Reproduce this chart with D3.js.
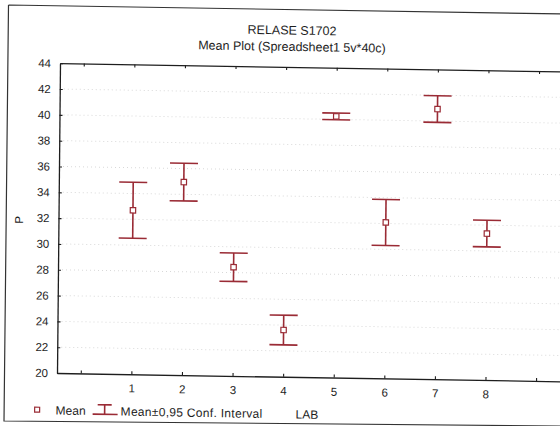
<!DOCTYPE html>
<html>
<head>
<meta charset="utf-8">
<script src="https://cdn.jsdelivr.net/npm/d3@7/dist/d3.min.js"></script>
<style>
  html, body { margin: 0; padding: 0; background: #fff; }
  svg { display: block; font-family: "Liberation Sans", Arial, sans-serif; }
</style>
</head>
<body>
<svg id="chart" width="560" height="426"></svg>
<script>
// LAB groups, means of P and half-width of the 0.95 confidence interval
const labs = [1, 2, 3, 4, 5, 6, 7, 8];
const means = [32.70, 34.95, 28.42, 23.62, 40.23, 32.08, 40.93, 31.35];
const ciHalf = [2.17, 1.46, 1.10, 1.15, 0.26, 1.78, 1.03, 1.03];
const yTicks = [20, 22, 24, 26, 28, 30, 32, 34, 36, 38, 40, 42, 44];
const xTicks = [0, 1, 2, 3, 4, 5, 6, 7, 8, 9, 10];
const xTickLabels = ["1", "2", "3", "4", "5", "6", "7", "8"];

const title = "RELASE S1702";
const subtitle = "Mean Plot (Spreadsheet1 5v*40c)";

const red = "#9a2b35";
const ink = "#1e1e1e";

const svg = d3.select("#chart");

// outer frame of the printed page
svg.append("path")
  .attr("d", "M8.5,5 L562,14 M8.5,5 L4,421 L562,426")
  .attr("fill", "none")
  .attr("stroke", "#333")
  .attr("stroke-width", 1.2);

// the printed sheet sits slightly skewed; everything is drawn in that frame
const e = 0.0097 * 373, f = -0.0165 * 57;
const g = svg.append("g")
  .attr("transform", `matrix(1,0.0165,-0.0097,1,${e},${f})`);

const x = d3.scaleLinear().domain([-0.47, 10.6]).range([57, 617]);
const y = d3.scaleLinear().domain([20, 44]).range([373, 63.2]);

// faint dotted grid
g.append("g").selectAll("line")
  .data(yTicks.slice(1, -1))
  .join("line")
  .attr("x1", x.range()[0]).attr("x2", x.range()[1])
  .attr("y1", d => y(d)).attr("y2", d => y(d))
  .attr("stroke", "#d8d8d8")
  .attr("stroke-width", 1)
  .attr("stroke-dasharray", "1,3");

function styleAxis(sel) {
  sel.selectAll("path.domain").attr("stroke", ink).attr("stroke-width", 1.3);
  sel.selectAll(".tick line").attr("stroke", ink).attr("stroke-width", 1.1);
  sel.selectAll(".tick text")
    .attr("fill", ink)
    .style("font-family", '"Liberation Sans", Arial, sans-serif')
    .style("font-size", "11.5px");
}

const fmtX = d => (d >= 1 && d <= 8) ? xTickLabels[d - 1] : "";

g.append("g")
  .attr("transform", `translate(0,${y(20)})`)
  .call(d3.axisBottom(x).tickValues(xTicks).tickFormat(fmtX)
    .tickSizeInner(-3).tickSizeOuter(0).tickPadding(10))
  .call(styleAxis);

g.append("g")
  .attr("transform", `translate(0,${y(44)})`)
  .call(d3.axisTop(x).tickValues(xTicks).tickFormat(() => "")
    .tickSizeInner(-3).tickSizeOuter(0))
  .call(styleAxis);

g.append("g")
  .attr("transform", `translate(${x.range()[0]},0)`)
  .call(d3.axisLeft(y).tickValues(yTicks).tickFormat(d3.format("d"))
    .tickSizeInner(-3).tickSizeOuter(0).tickPadding(9))
  .call(styleAxis);

// titles
g.append("text")
  .attr("x", 288.7).attr("y", 30.7)
  .attr("text-anchor", "middle")
  .attr("fill", ink).style("font-size", "12.5px")
  .text(title);
g.append("text")
  .attr("x", 288.8).attr("y", 47.1)
  .attr("text-anchor", "middle")
  .attr("fill", ink).style("font-size", "12.5px")
  .text(subtitle);

// y-axis title
g.append("text")
  .attr("transform", "translate(21.5,220.6) rotate(-90)")
  .attr("text-anchor", "middle")
  .attr("fill", ink).style("font-size", "11.5px")
  .text("P");

// confidence interval whiskers
const cap = 14;
const bars = g.append("g")
  .attr("stroke", red).attr("stroke-width", 1.6).attr("fill", "none");
labs.forEach((lab, i) => {
  const cx = x(lab);
  const lo = y(means[i] - ciHalf[i]);
  const hi = y(means[i] + ciHalf[i]);
  bars.append("line").attr("x1", cx).attr("x2", cx).attr("y1", hi).attr("y2", lo);
  bars.append("line").attr("x1", cx - cap).attr("x2", cx + cap).attr("y1", hi).attr("y2", hi);
  bars.append("line").attr("x1", cx - cap).attr("x2", cx + cap).attr("y1", lo).attr("y2", lo);
});

// mean markers
g.append("g").selectAll("rect")
  .data(labs)
  .join("rect")
  .attr("x", d => x(d) - 2.7)
  .attr("y", (d, i) => y(means[i]) - 2.7)
  .attr("width", 5.4).attr("height", 5.4)
  .attr("fill", "#fff")
  .attr("stroke", red).attr("stroke-width", 1.2);

// legend
const lg = g.append("g");
lg.append("rect")
  .attr("x", 35).attr("y", 407.5).attr("width", 5).attr("height", 5)
  .attr("fill", "#fff").attr("stroke", red).attr("stroke-width", 1.2);
lg.append("text")
  .attr("x", 56).attr("y", 414.5)
  .attr("fill", ink).style("font-size", "12px")
  .text("Mean");
const icon = lg.append("g").attr("stroke", red).attr("stroke-width", 1.6);
icon.append("line").attr("x1", 98).attr("x2", 112).attr("y1", 404).attr("y2", 404);
icon.append("line").attr("x1", 105).attr("x2", 105).attr("y1", 404).attr("y2", 413.5);
icon.append("line").attr("x1", 93).attr("x2", 118).attr("y1", 413.5).attr("y2", 413.5);
lg.append("text")
  .attr("x", 121).attr("y", 414.5)
  .attr("fill", ink).style("font-size", "12px")
  .style("letter-spacing", "0.3px")
  .text("Mean±0,95 Conf. Interval");
lg.append("text")
  .attr("x", 296).attr("y", 414.5)
  .attr("fill", ink).style("font-size", "12px")
  .text("LAB");
</script>
</body>
</html>
